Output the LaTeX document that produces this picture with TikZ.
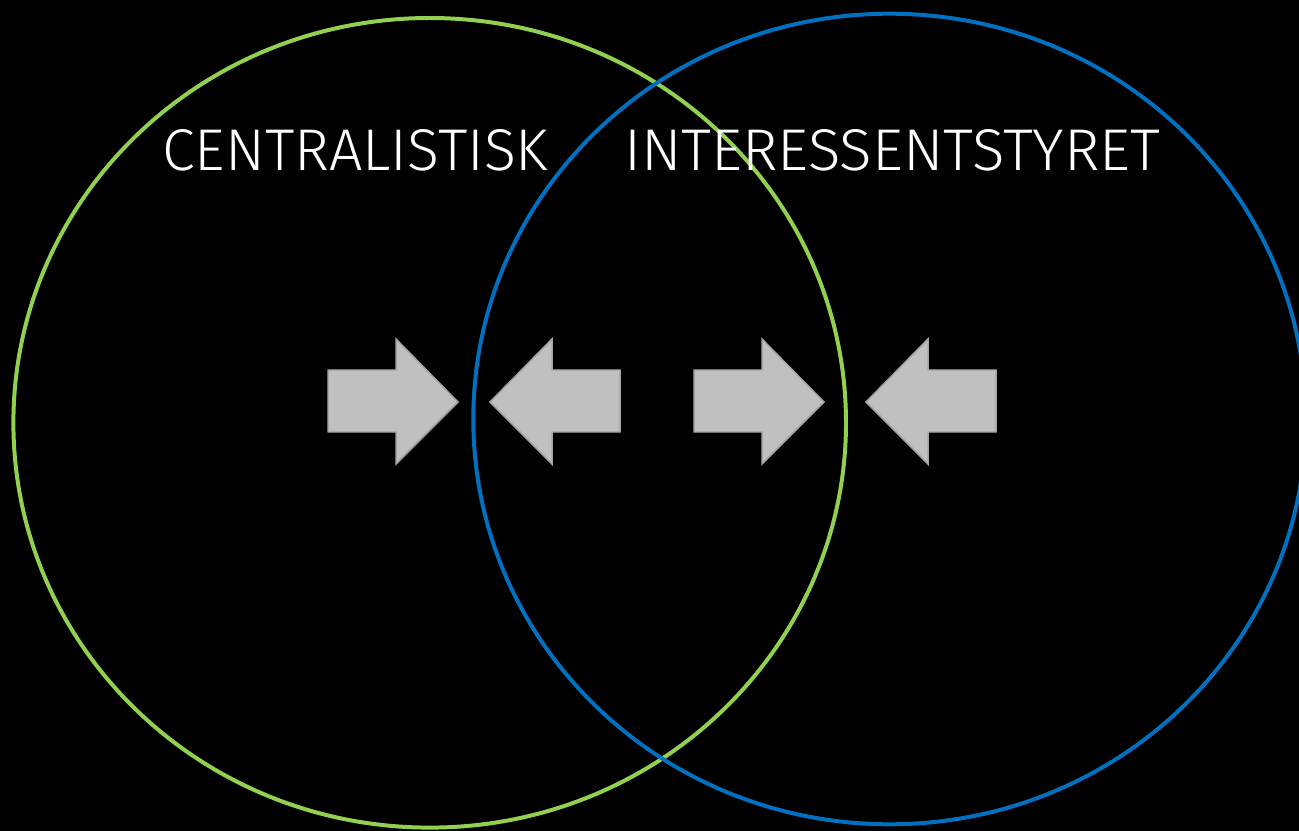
\documentclass[tikz,border=0pt]{standalone}
\usepackage{fontspec}
\usepackage{graphicx}
\newfontfamily\labelfont{Fira Sans Light}
\definecolor{leftgreen}{HTML}{92D050}
\definecolor{rightblue}{HTML}{0070C0}
\definecolor{arrowgray}{HTML}{C0C0C0}
\definecolor{arrowedge}{HTML}{A5A5A5}

\begin{document}
\begin{tikzpicture}[x=0.02cm, y=-0.02cm,
    ring/.style={line width=4pt*0.567},
    pusharrow/.style={fill=arrowgray, draw=arrowedge, line width=1.5pt*0.567, line join=miter},
    caption/.style={anchor=south west, inner sep=0pt, text=white}]
  % black page, the blue ring runs off the right edge
  \fill[black] (0,0) rectangle (1299,831);
  \useasboundingbox (0,0) rectangle (1299,831);
  \clip (0,0) rectangle (1299,831);

  % the two overlapping rings
  \draw[ring, leftgreen] (429.7,422.8) ellipse (416.3 and 404.8);
  \draw[ring, rightblue] (889.6,419) ellipse (416.3 and 405.3);

  % headings
  \node[caption] (central) at (162,171.5) {\resizebox{7.72cm}{0.82cm}{\labelfont CENTRALISTISK}};
  \node[caption] (interest) at (624,171.5) {\resizebox{10.72cm}{0.82cm}{\labelfont INTERESSENTSTYRET}};

  % block arrows pushing towards the ring borders
  \foreach \tip/\dir in {458/1, 490/-1, 824/1, 866/-1}
    \filldraw[pusharrow] (\tip,402) -- ++(-62*\dir,-63) -- ++(0,31) -- ++(-68*\dir,0)
      -- ++(0,62) -- ++(68*\dir,0) -- ++(0,32) -- cycle;
\end{tikzpicture}
\end{document}
